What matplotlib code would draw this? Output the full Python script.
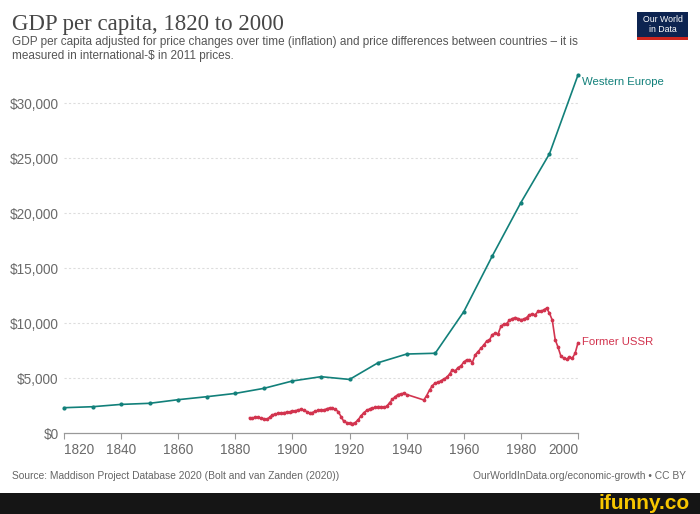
import matplotlib
matplotlib.use("Agg")
import matplotlib.pyplot as plt
from matplotlib.patches import Rectangle

# ---------------- data ----------------
we_years = [1820, 1830, 1840, 1850, 1860, 1870, 1880, 1890, 1900, 1910,
            1920, 1930, 1940, 1950, 1960, 1970, 1980, 1990, 2000]
we_values = [2300, 2390, 2600, 2700, 3030, 3300, 3600, 4060, 4730, 5120,
             4870, 6390, 7180, 7250, 11030, 16100, 20950, 25380, 32550]

ussr_years = list(range(1885, 1941)) + list(range(1946, 2001))
ussr_values = [
    1390, 1340, 1460, 1420, 1350, 1300, 1250, 1420, 1650, 1720,   # 1885-1894
    1780, 1800, 1850, 1880, 1920, 1990, 2010, 2100, 2150, 2050,   # 1895-1904
    1950, 1820, 1850, 1990, 2050, 2120, 2080, 2200, 2280, 2230,   # 1905-1914
    2150, 1950, 1500, 1050, 950, 880, 840, 950, 1200, 1550,       # 1915-1924
    1850, 2050, 2180, 2270, 2320, 2400, 2380, 2350, 2420, 2750,   # 1925-1934
    3050, 3300, 3500, 3550, 3620, 3500,                           # 1935-1940
    3000, 3400, 3900, 4300, 4550, 4600, 4750, 4900, 5050, 5350,   # 1946-1955
    5750, 5650, 5950, 6100, 6450, 6650, 6650, 6400, 7100, 7400,   # 1956-1965
    7700, 8000, 8350, 8450, 8950, 9050, 9000, 9700, 9900, 9950,   # 1966-1975
    10250, 10400, 10500, 10400, 10300, 10350, 10500, 10750, 10800, 10750,  # 1976-1985
    11050, 11050, 11200, 11350, 10900, 10250, 8500, 7800, 7000, 6800,      # 1986-1995
    6700, 6900, 6800, 7250, 8200,                                          # 1996-2000
]

x_ticks = [1820, 1840, 1860, 1880, 1900, 1920, 1940, 1960, 1980, 2000]
y_ticks = [0, 5000, 10000, 15000, 20000, 25000, 30000]
y_labels = ["$0", "$5,000", "$10,000", "$15,000", "$20,000", "$25,000", "$30,000"]

title = "GDP per capita, 1820 to 2000"
subtitle = ("GDP per capita adjusted for price changes over time (inflation) and price differences between countries – it is\n"
            "measured in international-$ in 2011 prices.")
source = "Source: Maddison Project Database 2020 (Bolt and van Zanden (2020))"
url = "OurWorldInData.org/economic-growth • CC BY"

WE_COL = "#12807a"
USSR_COL = "#d2344f"

plt.rcParams['font.family'] = ['Liberation Sans', 'DejaVu Sans']

W, H = 700, 514
fig = plt.figure(figsize=(7.0, 5.14), dpi=100)
fig.patch.set_facecolor("white")

def fx(px):
    return px / W
def fy(py):
    return 1 - py / H

ax = fig.add_axes([fx(64), fy(433), fx(578) - fx(64), fy(75) - fy(433)])
ax.set_xlim(1820, 2000)
ax.set_ylim(0, 32550)

ax.plot(we_years, we_values, color=WE_COL, lw=1.2, marker='o', ms=2.0,
        mec=WE_COL, mfc=WE_COL, clip_on=False, zorder=3)
ax.plot(ussr_years, ussr_values, color=USSR_COL, lw=1.2, marker='o', ms=1.7,
        mec=USSR_COL, mfc=USSR_COL, clip_on=False, zorder=3)

ax.text(2001.3, we_values[-1] - 600, "Western Europe", color=WE_COL, fontsize=8.2,
        va='center', ha='left', clip_on=False)
ax.text(2001.3, ussr_values[-1] + 75, "Former USSR", color=USSR_COL, fontsize=8.2,
        va='center', ha='left', clip_on=False)

for s in ['top', 'right', 'left']:
    ax.spines[s].set_visible(False)
ax.spines['bottom'].set_color('#999999')
ax.spines['bottom'].set_linewidth(0.9)

ax.set_yticks(y_ticks)
ax.set_yticklabels(y_labels, fontsize=9.8, color='#6a6a6a')
ax.tick_params(axis='y', length=0, pad=4)
for yv in y_ticks[1:]:
    ax.axhline(yv, color='#dddddd', lw=0.8, ls=(0, (2, 2)), zorder=1)

ax.set_xticks(x_ticks)
ax.set_xticklabels([str(t) for t in x_ticks], fontsize=9.8, color='#6a6a6a')
ax.tick_params(axis='x', length=4, width=0.8, color='#999999', direction='out', pad=3)
labs = ax.get_xticklabels()
labs[0].set_ha('left')
labs[-1].set_ha('right')

# title & subtitle
fig.text(fx(12), fy(30), title, fontsize=16.5, color='#474747',
         family=['Liberation Serif', 'DejaVu Serif'], va='baseline', ha='left')
fig.text(fx(12), fy(36), subtitle, fontsize=8.5, color='#555555',
         va='top', ha='left', linespacing=1.25)

# logo
fig.patches.append(Rectangle((fx(637), fy(40)), fx(688) - fx(637), fy(12) - fy(40),
                             transform=fig.transFigure, facecolor='#0d2451', edgecolor='none'))
fig.patches.append(Rectangle((fx(637), fy(40)), fx(688) - fx(637), fy(37) - fy(40),
                             transform=fig.transFigure, facecolor='#ce261e', edgecolor='none'))
fig.text(fx(662.5), fy(24.5), "Our World\nin Data", fontsize=6.3, color='white',
         ha='center', va='center', linespacing=1.0)

# footer
fig.text(fx(12), fy(476), source, fontsize=7.4, color='#666666', va='center', ha='left')
fig.text(fx(686), fy(476), url, fontsize=7.4, color='#666666', va='center', ha='right')

# watermark strip
fig.patches.append(Rectangle((0, 0), 1, fy(493), transform=fig.transFigure,
                             facecolor='#151515', edgecolor='none'))
fig.text(fx(690), fy(503.5), "ifunny.co", fontsize=15, color='#f7c600',
         fontweight='bold', ha='right', va='center')

fig.savefig("out.png", dpi=100, facecolor=fig.get_facecolor())
